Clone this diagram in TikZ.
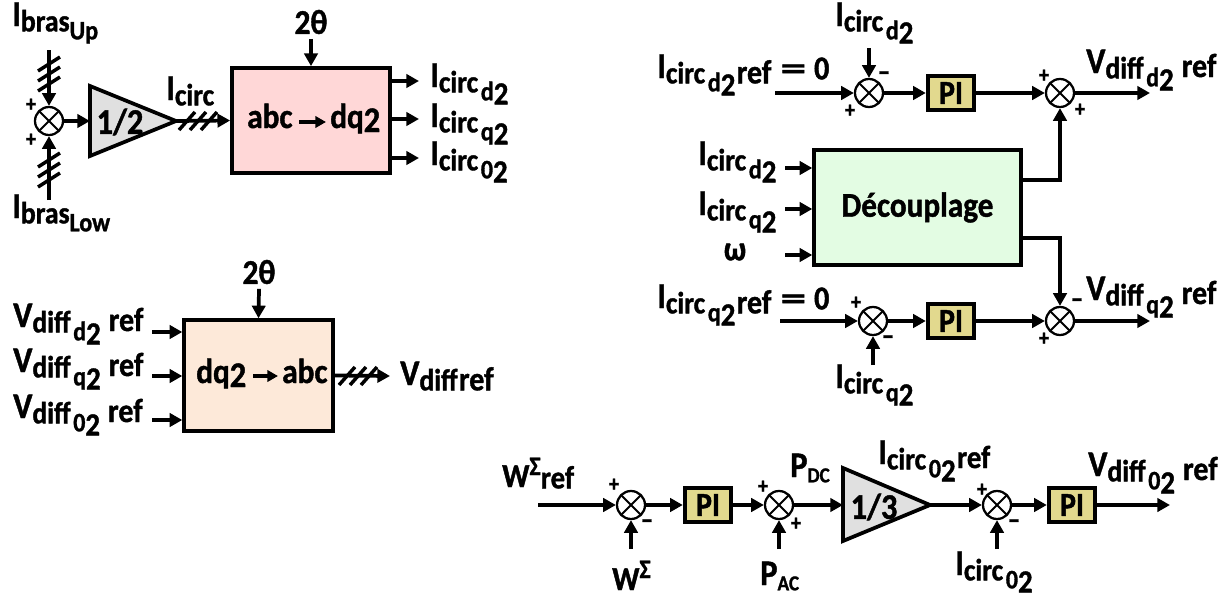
\documentclass[tikz,border=0pt]{standalone}
\usepackage{fontspec}
\setmainfont{Carlito}[BoldFont=Carlito Bold,BoldFeatures={FakeStretch=0.9,FakeBold=1.2}]
\usetikzlibrary{arrows.meta,calc}
\definecolor{pinkb}{HTML}{FFD7D7}
\definecolor{peachb}{HTML}{FDE9D9}
\definecolor{greenb}{HTML}{E3FCE3}
\definecolor{pib}{HTML}{E2D98E}
\definecolor{grayb}{HTML}{E0E0E0}
\newcommand\fs[1]{\fontsize{#1}{#1}\selectfont}
\newcommand\lowt[1]{\raisebox{-4pt}{\fs{23}#1}}
\newcommand\subs[2]{\hspace{2pt}\raisebox{-10pt}{\fs{20}#1\raisebox{-3pt}{\fs{24}#2}}}
\newcommand\Ic{{\fs{27}I}\lowt{circ}}
\newcommand\Vd{{\fs{27}V}\lowt{diff}}
\newcommand\rf{\hspace{6pt}\raisebox{-3pt}{\fs{25}ref}}
\tikzset{
  x=0.75pt,y=-0.75pt,
  every node/.style={font=\bfseries\fs{20}},
  link/.style={line width=2.8pt,-{Triangle[length=9.5pt,width=10pt]}},
  thinlink/.style={line width=2.4pt,-{Triangle[length=8pt,width=8.5pt]},shorten <=5pt,shorten >=3pt},
  slash/.style={line width=2.6pt},
  txt/.style={anchor=base west,inner sep=0pt},
  sumj/.style={circle,draw,line width=1.7pt,fill=white,minimum size=21pt,inner sep=0pt,
    path picture={\draw[line width=1.4pt] (path picture bounding box.north west)--(path picture bounding box.south east)
      (path picture bounding box.north east)--(path picture bounding box.south west);}},
  blockb/.style={draw,line width=2.8pt,inner sep=0pt},
  pibox/.style={blockb,fill=pib,minimum width=35pt,minimum height=25pt,font=\bfseries\fs{25}},
  sgn/.style={inner sep=0pt,font=\bfseries\fs{17}},
  mns/.style={inner sep=0pt,font=\bfseries\fs{21}},
  triang/.style={line width=2.8pt,fill=grayb,line join=miter},
}
\newcommand\hsl[1]{\foreach \d in {-11,0,11}{\draw[slash] ($(#1)+(\d-8,9)$)--($(#1)+(\d+8,-9)$);}}
\newcommand\vsl[1]{\foreach \d in {-10,0,10}{\draw[slash] ($(#1)+(-11,\d+7)$)--($(#1)+(11,\d-7)$);}}
\begin{document}
\begin{tikzpicture}
\useasboundingbox (0,0) rectangle (1232,600);
% ---- block 1
\node[blockb,fill=pinkb,minimum width=118.5pt,minimum height=78.75pt] (abc) at (311,120.5) {};
\node[sumj] (s1) at (49,121) {};
\draw[triang] (90,86)--(176,121)--(90,156)--cycle;
\coordinate (t1w) at (90,121); \coordinate (t1e) at (176,121);
\node[font=\bfseries\fs{27}] (t1) at (120,122) {1/2};
\coordinate (up) at (49,50); \coordinate (low) at (49,200);
\draw[link] (up)--(s1); \draw[link] (low)--(s1);
\draw[link] (s1)--(t1w);
\draw[link] (t1e)--(abc.west);
\vsl{49,74} \vsl{49,170}
\hsl{198,121}
\node[txt] (lup) at (12,26) {{\fs{27}I}\lowt{bras}\raisebox{-10pt}{\fs{20}Up}};
\node[txt] (llow) at (12,218) {{\fs{27}I}\lowt{bras}\raisebox{-10pt}{\fs{20}Low}};
\node[txt] (lic) at (166,100) {\Ic};
\node[sgn] (p1) at (31,105) {+}; \node[sgn] (p2) at (31,140) {+};
\node[font=\bfseries\fs{26}] (th1) at (311,22) {2θ};
\draw[link] (th1.south)--(abc.north);
\coordinate (o1) at (419,81); \coordinate (o2) at (419,119); \coordinate (o3) at (419,158);
\foreach \o in {o1,o2,o3}{\draw[link] (abc.east |- \o)--(\o);}
\node[txt] (lo1) at (430,87) {\Ic\subs{d}{2}};
\node[txt] (lo2) at (430,127) {\Ic\subs{q}{2}};
\node[txt] (lo3) at (430,165) {\Ic\subs{0}{2}};
\node[txt] (ta) at (247,128) {\fs{26}abc};
\node[txt] (tb) at (330,128) {\fs{26}dq\raisebox{-3pt}{\fs{27}2}};
\draw[thinlink] (ta.east |- 0,122)--(tb.west |- 0,122);
% ---- block 2
\node[blockb,fill=peachb,minimum width=111.5pt,minimum height=83pt] (dq) at (258.5,375.5) {};
\node[font=\bfseries\fs{26}] (th2) at (259,272) {2θ};
\draw[link] (th2.south)--(dq.north);
\coordinate (i1) at (152,332); \coordinate (i2) at (152,376); \coordinate (i3) at (152,420);
\foreach \o in {i1,i2,i3}{\draw[link] (\o)--(dq.west |- \o);}
\node[txt] (v1) at (13,327) {\Vd\subs{d}{2}\rf};
\node[txt] (v2) at (13,372) {\Vd\subs{q}{2}\rf};
\node[txt] (v3) at (13,418) {\Vd\subs{0}{2}\rf};
\node[txt] (tc) at (196,383) {\fs{26}dq\raisebox{-3pt}{\fs{27}2}};
\node[txt] (td) at (282,383) {\fs{26}abc};
\draw[thinlink] (tc.east |- 0,376)--(td.west |- 0,376);
\coordinate (o4) at (390,376);
\draw[link] (dq.east)--(o4);
\hsl{358,376}
\node[txt] (vr) at (400,385) {\Vd\hspace{1pt}\raisebox{-4pt}{\fs{25}ref}};
% ---- right top
\node[sumj] (s2) at (869,93) {};
\node[pibox] (pi1) at (951,93) {PI};
\node[sumj] (s3) at (1060,93) {};
\coordinate (a0) at (775,93); \coordinate (a1) at (1150,93); \coordinate (a2) at (869,48);
\draw[link] (a0)--(s2); \draw[link] (a2)--(s2);
\draw[link] (s2)--(pi1); \draw[link] (pi1)--(s3); \draw[link] (s3)--(a1);
\node[txt] (r1) at (657,78) {\Ic\subs{d}{2}\hspace{1pt}\raisebox{-4pt}{\fs{25}ref}\hspace{7pt}\raisebox{-1pt}{\fs{25}\scalebox{1.7}[1]{=}\hspace{6pt}0}};
\node[txt] (r2) at (835,26) {\Ic\subs{d}{2}};
\node[txt] (r3) at (1086,73) {\Vd\subs{d}{2}\rf};
\node[sgn] at (850,111) {+}; \node[mns] at (884,76) {–};
\node[sgn] at (1044,76) {+}; \node[sgn] at (1080,110) {+};
\node[blockb,fill=greenb,minimum width=155pt,minimum height=86.25pt] (dec) at (917.5,207.5) {\fs{26}Découplage};
\coordinate (d1) at (785,168); \coordinate (d2) at (785,209); \coordinate (d3) at (785,255);
\foreach \o in {d1,d2,d3}{\draw[link] (\o)--(dec.west |- \o);}
\node[txt] (l1) at (698,165) {\Ic\subs{d}{2}};
\node[txt] (l2) at (698,215) {\Ic\subs{q}{2}};
\node[font=\bfseries\fs{26}] (l3) at (735,252) {ω};
\coordinate (e1) at (dec.east |- 0,180); \coordinate (e2) at (dec.east |- 0,238);
\node[sumj] (s5) at (1060,321) {};
\draw[link] (e1)-|(s3);
\draw[link] (e2)-|(s5);
% ---- right lower
\node[sumj] (s4) at (873,321) {};
\node[pibox] (pi2) at (951,321) {PI};
\coordinate (b0) at (780,321); \coordinate (b1) at (1150,321); \coordinate (b2) at (873,365);
\draw[link] (b0)--(s4); \draw[link] (b2)--(s4);
\draw[link] (s4)--(pi2); \draw[link] (pi2)--(s5); \draw[link] (s5)--(b1);
\node[txt] (r4) at (657,308) {\Ic\subs{q}{2}\hspace{1pt}\raisebox{-4pt}{\fs{25}ref}\hspace{7pt}\raisebox{-1pt}{\fs{25}\scalebox{1.7}[1]{=}\hspace{6pt}0}};
\node[txt] (r5) at (835,388) {\Ic\subs{q}{2}};
\node[txt] (r6) at (1086,300) {\Vd\subs{q}{2}\rf};
\node[sgn] at (856,303) {+}; \node[mns] at (888,340) {–};
\node[sgn] at (1044,339) {+}; \node[mns] at (1077,303) {–};
% ---- bottom
\node[sumj] (s6) at (631,505) {};
\node[pibox] (pi3) at (708,505) {PI};
\node[sumj] (s7) at (779,505) {};
\draw[triang] (843,468)--(930,505)--(843,541)--cycle;
\coordinate (t2w) at (843,505); \coordinate (t2e) at (930,505);
\node[font=\bfseries\fs{27}] (t2) at (874,507) {1/3};
\node[sumj] (s8) at (997,505) {};
\node[pibox] (pi4) at (1072,505) {PI};
\coordinate (c0) at (538,505); \coordinate (c1) at (1170,505);
\coordinate (c2) at (631,549); \coordinate (c3) at (779,549); \coordinate (c4) at (997,549);
\draw[link] (c0)--(s6); \draw[link] (s6)--(pi3); \draw[link] (pi3)--(s7);
\draw[link] (s7)--(t2w); \draw[link] (t2e)--(s8);
\draw[link] (s8)--(pi4); \draw[link] (pi4)--(c1);
\draw[link] (c2)--(s6); \draw[link] (c3)--(s7); \draw[link] (c4)--(s8);
\node[txt] (w1) at (502,487) {{\fs{25}W}\raisebox{9pt}{\fs{20}Σ}\raisebox{-1pt}{\fs{24}ref}};
\node[txt] (w2) at (612,590) {{\fs{25}W}\raisebox{9pt}{\fs{20}Σ}};
\node[txt] (w3) at (760,585) {{\fs{27}P}\raisebox{-4pt}{\fs{16}AC}};
\node[txt] (w4) at (790,477) {{\fs{27}P}\raisebox{-4pt}{\fs{16}DC}};
\node[txt] (w5) at (878,464) {\Ic\subs{0}{2}\hspace{1pt}\raisebox{-3pt}{\fs{24}ref}};
\node[txt] (w6) at (1088,476) {\Vd\subs{0}{2}\rf};
\node[txt] (w7) at (955,575) {\Ic\subs{0}{2}};
\node[sgn] at (614,485) {+}; \node[mns] at (647,524) {–};
\node[sgn] at (763,487) {+}; \node[sgn] at (796,524) {+};
\node[sgn] at (982,490) {+}; \node[mns] at (1014,524) {–};
\end{tikzpicture}
\end{document}
